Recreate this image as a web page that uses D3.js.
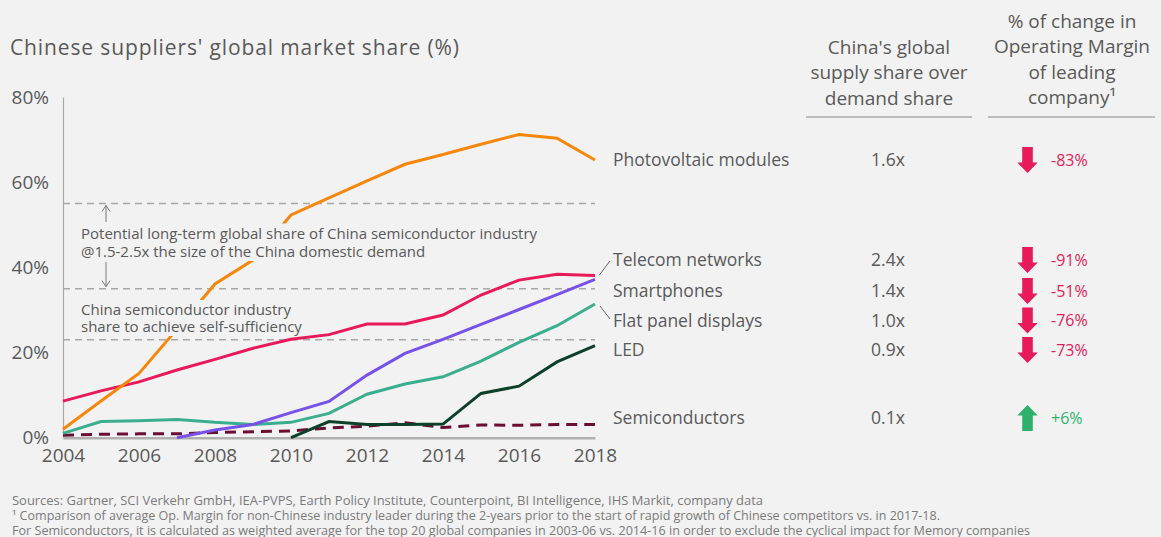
<!DOCTYPE html>
<html><head><meta charset="utf-8">
<script src="https://cdn.jsdelivr.net/npm/d3@7"></script>
<style>
html,body{margin:0;padding:0;background:#f2f2f2;}
svg{display:block;font-family:"Open Sans",sans-serif;}
</style></head>
<body>
<svg id="chart" width="1161" height="537"></svg>
<script>
// ---------- DATA ----------
const years = [2004,2005,2006,2007,2008,2009,2010,2011,2012,2013,2014,2015,2016,2017,2018];
const photovoltaic = [2.0,8.6,15.1,25.5,36.1,41.7,52.3,56.3,60.3,64.2,66.5,68.9,71.2,70.3,65.2];
const telecom      = [8.6,11.0,13.1,15.9,18.4,21.0,23.1,24.2,26.7,26.7,28.8,33.5,37.0,38.4,38.1];
const smartphones  = [null,null,null,0,1.8,3.1,5.9,8.5,14.7,19.8,23.1,26.6,30.1,33.6,37.2];
const flatPanel    = [1.0,3.8,4.0,4.3,3.6,3.1,3.6,5.7,10.2,12.6,14.3,18.0,22.4,26.3,31.4];
const led          = [null,null,null,null,null,null,0,3.8,3.1,3.1,3.2,10.4,12.1,17.8,21.6];
const semis        = [0.6,0.8,0.9,0.9,1.2,1.4,1.6,2.3,2.7,3.5,2.4,3.0,2.9,3.1,3.1];

const yTicks = [0,20,40,60,80];
const xTicks = [2004,2006,2008,2010,2012,2014,2016,2018];
const refLevels = [55,35,23];

const rowLabels  = ["Photovoltaic modules","Telecom networks","Smartphones","Flat panel displays","LED","Semiconductors"];
const ratios     = ["1.6x","2.4x","1.4x","1.0x","0.9x","0.1x"];
const marginChg  = [-83,-91,-51,-76,-73,6];

// ---------- LAYOUT ----------
const svg = d3.select("#chart");
const W = 1161, H = 537;
const BG = "#f2f2f2", TXT = "#595959";
const RED = "#e81a5a", GREEN = "#2db26c";
svg.append("rect").attr("width",W).attr("height",H).attr("fill",BG);

const x = d3.scaleLinear().domain([2004,2018]).range([63,595]);
const y = d3.scaleLinear().domain([0,80]).range([437.7,97]);

// title
svg.append("text").attr("x",10).attr("y",55).attr("font-size",21).attr("fill",TXT)
  .attr("textLength",449).attr("lengthAdjust","spacing")
  .text("Chinese suppliers' global market share (%)");

// reference dashed lines
svg.selectAll(".ref").data(refLevels).enter().append("line")
  .attr("x1",x(2004)).attr("x2",x(2018)).attr("y1",d=>y(d)).attr("y2",d=>y(d))
  .attr("stroke","#a8a8a8").attr("stroke-width",1.5).attr("stroke-dasharray","7,5");

// axes
const yAxis = svg.append("g").attr("transform",`translate(${x(2004)},0)`)
  .call(d3.axisLeft(y).tickValues(yTicks).tickFormat(d=>d+"%").tickSize(0).tickSizeOuter(0).tickPadding(14));
yAxis.select(".domain").attr("stroke","#a8a8a8").attr("stroke-width",1.2);
yAxis.selectAll("text").attr("font-size",19).attr("fill",TXT).attr("font-family","Open Sans");

const xAxis = svg.append("g").attr("transform",`translate(0,${y(0)})`)
  .call(d3.axisBottom(x).tickValues(xTicks).tickFormat(d3.format("d")).tickSize(0).tickSizeOuter(0).tickPadding(11));
xAxis.select(".domain").attr("stroke","#b0b0b0").attr("stroke-width",2.5);
xAxis.selectAll("text").attr("font-size",19).attr("fill",TXT).attr("font-family","Open Sans");

// series
const series = [
  {vals:semis, color:"#6a0f33", dash:"11,7"},
  {vals:led, color:"#0d4029"},
  {vals:flatPanel, color:"#3aae8e"},
  {vals:smartphones, color:"#7852e8"},
  {vals:telecom, color:"#e81a5a"},
  {vals:photovoltaic, color:"#f5870c"}
];
const line = d3.line().defined(d=>d.v!=null).x(d=>x(d.yr)).y(d=>y(d.v));
series.forEach(s=>{
  svg.append("path").datum(years.map((yr,i)=>({yr,v:s.vals[i]})))
    .attr("d",line).attr("fill","none").attr("stroke",s.color).attr("stroke-width",3)
    .attr("stroke-dasharray",s.dash||null).attr("stroke-linejoin","miter");
});

// annotations with background boxes
function annot(lines, x0, yCenters){
  const g = svg.append("g");
  lines.forEach((t,i)=>{
    const tx = g.append("text").attr("x",x0).attr("y",yCenters[i]).attr("dy","0.35em")
      .attr("font-size",15).attr("fill",TXT).text(t);
    const bb = tx.node().getBBox();
    g.insert("rect","text").attr("x",bb.x-2).attr("y",yCenters[i]-10).attr("width",bb.width+4).attr("height",19).attr("fill",BG);
  });
}
annot(["Potential long-term global share of China semiconductor industry","@1.5-2.5x the size of the China domestic demand"],81,[233.5,252]);
annot(["China semiconductor industry","share to achieve self-sufficiency"],81,[310,327]);

// double arrow
const ax = 106;
const ag = svg.append("g").attr("stroke","#7a7a7a").attr("stroke-width",1).attr("fill","none");
ag.append("line").attr("x1",ax).attr("x2",ax).attr("y1",y(55)+2).attr("y2",222);
ag.append("path").attr("d",`M${ax-4},${y(55)+8} L${ax},${y(55)+2} L${ax+4},${y(55)+8}`);
ag.append("line").attr("x1",ax).attr("x2",ax).attr("y1",262).attr("y2",y(35)-2);
ag.append("path").attr("d",`M${ax-4},${y(35)-8} L${ax},${y(35)-2} L${ax+4},${y(35)-8}`);

// leader lines
svg.append("line").attr("x1",x(2018)+4).attr("y1",y(telecom[14])).attr("x2",610).attr("y2",261)
  .attr("stroke","#666").attr("stroke-width",1);
svg.append("line").attr("x1",x(2018)+5).attr("y1",y(flatPanel[14])+2).attr("x2",610).attr("y2",319)
  .attr("stroke","#666").attr("stroke-width",1);

// column headers
const h1 = ["China's global","supply share over","demand share"];
const h2 = ["% of change in","Operating Margin","of leading","company¹"];
h1.forEach((t,i)=>svg.append("text").attr("x",889).attr("y",47+i*25.5).attr("dy","0.35em")
  .attr("text-anchor","middle").attr("font-size",19).attr("fill",TXT).text(t));
h2.forEach((t,i)=>svg.append("text").attr("x",1072).attr("y",21+i*25.5).attr("dy","0.35em")
  .attr("text-anchor","middle").attr("font-size",19).attr("fill",TXT).text(t));
svg.append("line").attr("x1",806).attr("x2",972).attr("y1",117).attr("y2",117).attr("stroke","#bdbdbd").attr("stroke-width",2);
svg.append("line").attr("x1",988).attr("x2",1155).attr("y1",117).attr("y2",117).attr("stroke","#bdbdbd").attr("stroke-width",2);

// rows
const rowY = [160,260,291,320.5,350,418];
rowLabels.forEach((lab,i)=>{
  const cy = rowY[i];
  svg.append("text").attr("x",613).attr("y",cy).attr("dy","0.35em").attr("font-size",17.5).attr("fill",TXT).text(lab);
  svg.append("text").attr("x",888).attr("y",cy).attr("dy","0.35em").attr("text-anchor","middle")
    .attr("font-size",17.5).attr("fill",TXT).text(ratios[i]);
  const v = marginChg[i], col = v<0?RED:GREEN;
  const ax0 = 1027.5, top = cy-13, bot = cy+13;
  let p;
  if(v<0){
    p = `M${ax0-5.3},${top} L${ax0+5.3},${top} L${ax0+5.3},${bot-10.5} L${ax0+10.2},${bot-10.5} L${ax0},${bot} L${ax0-10.2},${bot-10.5} L${ax0-5.3},${bot-10.5} Z`;
  } else {
    p = `M${ax0-5.3},${bot} L${ax0+5.3},${bot} L${ax0+5.3},${top+10.5} L${ax0+10.2},${top+10.5} L${ax0},${top} L${ax0-10.2},${top+10.5} L${ax0-5.3},${top+10.5} Z`;
  }
  svg.append("path").attr("d",p).attr("fill",col);
  svg.append("text").attr("x",1051).attr("y",cy).attr("dy","0.35em").attr("font-size",16).attr("fill",col)
    .text((v>0?"+":"")+v+"%");
});

// footnotes
const notes = [
  "Sources: Gartner, SCI Verkehr GmbH, IEA-PVPS, Earth Policy Institute, Counterpoint, BI Intelligence, IHS Markit, company data",
  "¹ Comparison of average Op. Margin for non-Chinese industry leader during the 2-years prior to the start of rapid growth of Chinese competitors vs. in 2017-18.",
  "For Semiconductors, it is calculated as weighted average for the top 20 global companies in 2003-06 vs. 2014-16 in order to exclude the cyclical impact for Memory companies"
];
const noteW = [751, 928, 1018];
notes.forEach((t,i)=>svg.append("text").attr("x",12).attr("y",501+i*15).attr("dy","0.35em")
  .attr("font-size",12).attr("fill","#7a7a7a").attr("textLength",noteW[i]).attr("lengthAdjust","spacingAndGlyphs").text(t));
</script>
</body></html>
